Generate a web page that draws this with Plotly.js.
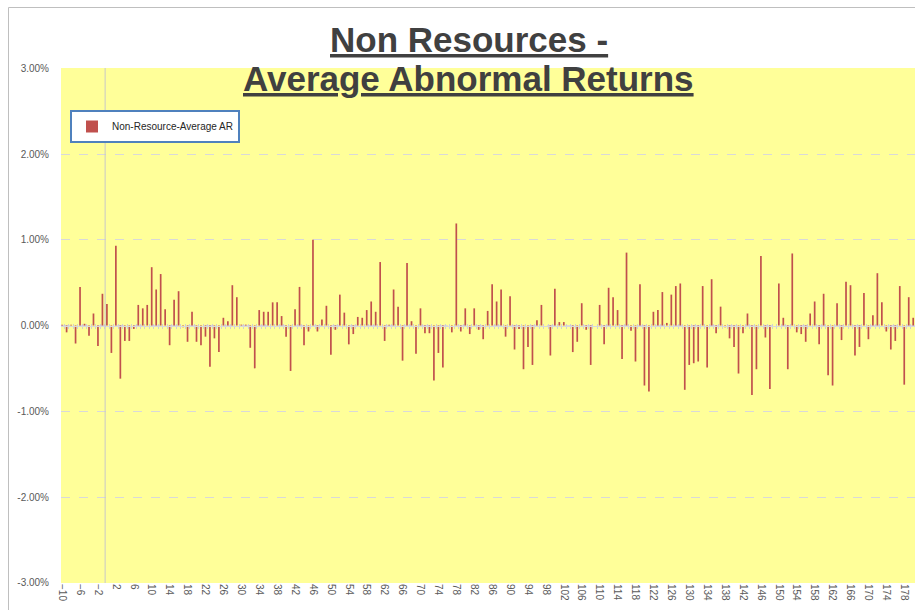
<!DOCTYPE html>
<html>
<head>
<meta charset="utf-8">
<script src="https://cdn.plot.ly/plotly-3.0.1.min.js"></script>
<style>
html,body{margin:0;padding:0;background:#fff;}
#chart{width:915px;height:610px;}
</style>
</head>
<body>
<div id="chart"></div>
<script>
// Event days (categories)
var firstDay = -10, lastDay = 180;
var days = [];
for (var d = firstDay; d <= lastDay; d++) days.push(d);

// Average abnormal returns (%), one value per event day, -10 .. 180
var avgAR = [
  0.01,-0.08, 0.01,-0.21, 0.45, 0.02,-0.12, 0.14,-0.24, 0.37,   // -10 .. -1
  0.25,-0.32, 0.93,-0.62,-0.18,-0.18,-0.04, 0.24, 0.20, 0.24,   // 0 .. 9
  0.68, 0.42, 0.60, 0.19,-0.23, 0.30, 0.40,-0.02,-0.19, 0.16,   // 10 .. 19
 -0.19,-0.23,-0.13,-0.48,-0.15,-0.31, 0.09, 0.05, 0.47, 0.33,   // 20 .. 29
  0.01, 0.01,-0.26,-0.50, 0.18, 0.16, 0.16, 0.27, 0.27, 0.11,   // 30 .. 39
 -0.13,-0.53, 0.19, 0.45,-0.23,-0.07, 1.00,-0.07, 0.07, 0.23,   // 40 .. 49
 -0.34,-0.05, 0.36, 0.15,-0.22,-0.10, 0.10, 0.09, 0.18, 0.28,   // 50 .. 59
  0.16, 0.74,-0.18, 0.01, 0.42, 0.22,-0.41, 0.73, 0.05,-0.33,   // 60 .. 69
  0.20,-0.09,-0.09,-0.64,-0.32,-0.49, 0.00,-0.08, 1.19,-0.07,   // 70 .. 79
  0.20,-0.10, 0.20,-0.05,-0.16, 0.17, 0.48, 0.28, 0.42,-0.13,   // 80 .. 89
  0.34,-0.28,-0.04,-0.51,-0.25,-0.46, 0.06, 0.24, 0.00,-0.35,   // 90 .. 99
  0.43, 0.04, 0.04, 0.00,-0.31,-0.19, 0.26,-0.05,-0.46, 0.00,   // 100 .. 109
  0.24,-0.22, 0.44, 0.33, 0.18,-0.39, 0.85,-0.06,-0.42, 0.48,   // 110 .. 119
 -0.70,-0.77, 0.16, 0.18, 0.39, 0.03, 0.36, 0.46, 0.49,-0.75,   // 120 .. 129
 -0.46,-0.44,-0.42, 0.46,-0.49, 0.54,-0.09, 0.22,-0.02,-0.15,   // 130 .. 139
 -0.25,-0.56,-0.09, 0.14,-0.81,-0.51, 0.81,-0.14,-0.74, 0.00,   // 140 .. 149
  0.49, 0.09,-0.51, 0.84,-0.08,-0.10,-0.19, 0.14, 0.28,-0.22,   // 150 .. 159
  0.37,-0.58,-0.70, 0.26,-0.17, 0.51, 0.47,-0.35,-0.25, 0.38,   // 160 .. 169
 -0.16, 0.12, 0.61, 0.27,-0.07,-0.28,-0.18, 0.46,-0.69, 0.33,   // 170 .. 179
  0.09                                                          // 180
];

var seriesName = 'Non-Resource-Average AR';
var titleLines = ['Non Resources -', 'Average Abnormal Returns'];
var yTicks = [-3, -2, -1, 0, 1, 2, 3];
var yTickLabels = ['-3.00%', '-2.00%', '-1.00%', '0.00%', '1.00%', '2.00%', '3.00%'];
var markerDay = -0.4;

var W = 915, H = 610;
var mL = 61, mR = 0, mT = 68, mB = 27;
var plotW = W - mL - mR, plotH = H - mT - mB;
function px2x(p) { return (p - mL) / plotW; }
function py2y(p) { return (H - mB - p) / plotH; }

var traces = [
  {
    type: 'bar',
    x: days,
    y: avgAR,
    name: seriesName,
    marker: { color: '#C0504D' },
    width: 0.38,
    showlegend: true,
    hoverinfo: 'x+y'
  },
  {
    type: 'scatter',
    x: [days[0]],
    y: [0],
    xaxis: 'x2',
    mode: 'markers',
    marker: { opacity: 0 },
    showlegend: false,
    hoverinfo: 'skip'
  },
  {
    type: 'scatter',
    x: [days[0]],
    y: [0],
    xaxis: 'x3',
    mode: 'markers',
    marker: { opacity: 0 },
    showlegend: false,
    hoverinfo: 'skip'
  }
];

var xr = [firstDay - 0.25, lastDay + 0.4];
var titleFont = { family: 'Liberation Sans, Arial, sans-serif', size: 35, color: '#404040' };

var layout = {
  width: W,
  height: H,
  margin: { l: mL, r: mR, t: mT, b: mB, pad: 0 },
  paper_bgcolor: '#ffffff',
  plot_bgcolor: '#FFFF99',
  font: { family: 'Liberation Sans, Arial, sans-serif', color: '#595959', size: 10 },
  annotations: [
    {
      text: '<b><u>' + titleLines[0] + '</u></b>',
      xref: 'paper', yref: 'paper',
      x: px2x(469), y: py2y(40),
      xanchor: 'center', yanchor: 'middle',
      showarrow: false,
      font: titleFont
    },
    {
      text: '<b><u>' + titleLines[1] + '</u></b>',
      xref: 'paper', yref: 'paper',
      x: px2x(468), y: py2y(79),
      xanchor: 'center', yanchor: 'middle',
      showarrow: false,
      font: titleFont
    }
  ],
  xaxis: {
    type: 'linear',
    range: xr,
    tickmode: 'linear',
    tick0: firstDay,
    dtick: 4,
    tickangle: 90,
    ticks: '',
    showgrid: false,
    zeroline: false,
    showline: false,
    tickfont: { size: 10, color: '#595959' },
    fixedrange: true
  },
  xaxis2: {
    overlaying: 'x',
    anchor: 'free',
    position: 0.5,
    range: xr,
    tickmode: 'linear',
    tick0: firstDay - 0.5,
    dtick: 1,
    ticks: 'outside',
    ticklen: 2,
    tickwidth: 1,
    tickcolor: '#d0d0d0',
    showticklabels: false,
    showgrid: false,
    zeroline: false,
    showline: true,
    linecolor: '#d9d9d9',
    linewidth: 1
  },
  xaxis3: {
    overlaying: 'x',
    anchor: 'free',
    position: 0.5,
    range: xr,
    tickmode: 'linear',
    tick0: firstDay - 0.5,
    dtick: 1,
    ticks: 'inside',
    ticklen: 2,
    tickwidth: 1,
    tickcolor: '#d0d0d0',
    showticklabels: false,
    showgrid: false,
    zeroline: false,
    showline: false
  },
  yaxis: {
    range: [-3.003, 3.003],
    tickmode: 'array',
    tickvals: yTicks,
    ticktext: yTickLabels,
    ticks: 'outside',
    ticklen: 9,
    tickcolor: 'rgba(0,0,0,0)',
    showgrid: true,
    gridcolor: '#d9d9d9',
    gridwidth: 1,
    griddash: 'dash',
    zeroline: false,
    showline: false,
    tickfont: { size: 10, color: '#595959' },
    fixedrange: true
  },
  showlegend: true,
  legend: {
    x: px2x(70),
    y: py2y(110),
    xanchor: 'left',
    yanchor: 'top',
    bgcolor: '#ffffff',
    bordercolor: '#4F81BD',
    borderwidth: 2,
    orientation: 'v',
    font: { size: 10, color: '#262626' },
    itemwidth: 30,
    tracegroupgap: 0
  },
  shapes: [
    {
      type: 'line', xref: 'x', yref: 'paper',
      x0: markerDay, x1: markerDay, y0: 0, y1: 1,
      line: { color: '#c8c8c8', width: 1 }, layer: 'above'
    },
    {
      type: 'line', xref: 'paper', yref: 'paper',
      x0: px2x(8.5), x1: px2x(8.5), y0: py2y(7.5), y1: py2y(615),
      line: { color: '#bfbfbf', width: 1 }
    },
    {
      type: 'line', xref: 'paper', yref: 'paper',
      x0: px2x(8.5), x1: px2x(920), y0: py2y(7.5), y1: py2y(7.5),
      line: { color: '#bfbfbf', width: 1 }
    }
  ]
};

Plotly.newPlot('chart', traces, layout, { displayModeBar: false, staticPlot: true });
</script>
</body>
</html>
